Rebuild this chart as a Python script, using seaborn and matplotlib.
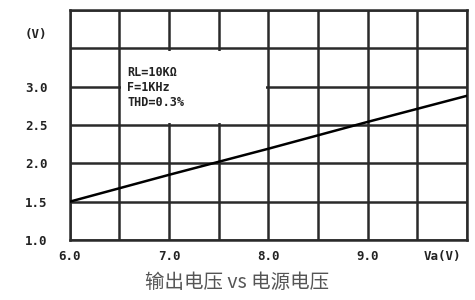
import matplotlib
matplotlib.use('Agg')
import matplotlib.pyplot as plt
from matplotlib.patches import Rectangle
import seaborn as sns
import numpy as np
import pandas as pd

# supply voltage (V) and output voltage (V)
supply_v = [6.0, 7.0, 8.0, 9.0, 10.0]
output_v = [1.50, 1.85, 2.19, 2.54, 2.88]

x_ticks = [6.0, 7.0, 8.0, 9.0, 9.75]
x_labels = ['6.0', '7.0', '8.0', '9.0', 'Va(V)']
y_ticks = [1.0, 1.5, 2.0, 2.5, 3.0, 3.7]
y_labels = ['1.0', '1.5', '2.0', '2.5', '3.0', '(V)']
notes = ['RL=10KΩ', 'F=1KHz', 'THD=0.3%']
title = '输出电压 vs 电源电压'

sns.set_style('white')
plt.rcParams['font.family'] = ['DejaVu Sans Mono', 'DejaVu Sans']

fig = plt.figure(figsize=(4.75, 3.0), dpi=100)
ax = fig.add_axes([0.147, 0.2, 0.836, 0.767])

df = pd.DataFrame({'supply': supply_v, 'output': output_v})
sns.lineplot(data=df, x='supply', y='output', color='black', linewidth=1.8, ax=ax, zorder=5)

ax.set_xlim(6.0, 10.0)
ax.set_ylim(1.0, 4.0)

# grid on minor ticks, labels on major ticks
ax.xaxis.remove_overlapping_locs = False
ax.yaxis.remove_overlapping_locs = False
ax.set_xticks(np.arange(6.0, 10.01, 0.5), minor=True)
ax.set_yticks(np.arange(1.0, 4.01, 0.5), minor=True)
ax.set_xticks(x_ticks)
ax.set_xticklabels(x_labels)
ax.set_yticks(y_ticks)
ax.set_yticklabels(y_labels)
ax.grid(which='major', visible=False)
ax.grid(which='minor', color='#2a2a2a', linewidth=1.8)
ax.tick_params(which='both', length=0)
ax.tick_params(axis='x', pad=7)
ax.tick_params(axis='y', pad=16)
for lab in ax.get_xticklabels() + ax.get_yticklabels():
    lab.set_fontsize(9)
    lab.set_fontweight('bold')
    lab.set_color('#222222')
ax.set_xlabel('')
ax.set_ylabel('')

for s in ax.spines.values():
    s.set_color('#2a2a2a')
    s.set_linewidth(1.8)

# white box hiding the grid behind the notes
ax.add_patch(Rectangle((6.52, 2.53), 1.46, 0.94, facecolor='white',
                       edgecolor='none', zorder=3))
ax.text(6.58, 2.99, '\n'.join(notes), fontsize=8.5, fontweight='bold',
        color='#222222', va='center', ha='left', linespacing=1.2, zorder=4)

fig.text(0.5, 0.057, title, ha='center', va='center', fontsize=14,
         color='#555555', family=['Noto Sans CJK SC', 'DejaVu Sans'])

fig.savefig('out.png', dpi=100)
